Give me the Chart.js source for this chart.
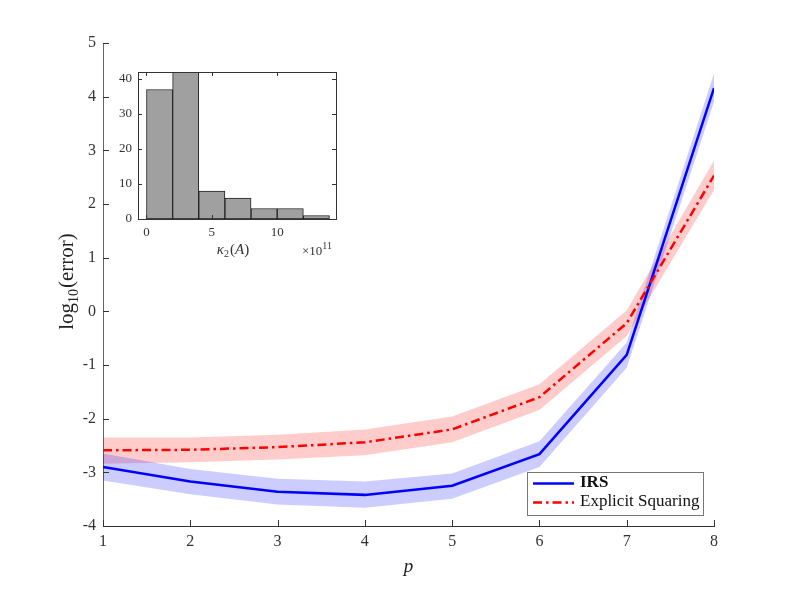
<!DOCTYPE html>
<html>
<head>
<meta charset="utf-8">
<script src="https://cdn.jsdelivr.net/npm/chart.js@4.4.1/dist/chart.umd.min.js"></script>
<style>
html, body { margin: 0; padding: 0; background: #fff; }
#wrap { position: relative; width: 789px; height: 592px; }
#main { position: absolute; left: 0; top: 0; }
#inset { position: absolute; left: 100px; top: 55px; }
</style>
</head>
<body>
<div id="wrap">
  <canvas id="main" width="789" height="592"></canvas>
  <canvas id="inset" width="250" height="210"></canvas>
</div>
<script>
// main plot data (log10 of error against p)
const pValues = [1, 2, 3, 4, 5, 6, 7, 8];
const irsMean  = [-2.90, -3.17, -3.36, -3.42, -3.25, -2.66, -0.81, 4.16];
const irsUpper = [-2.65, -2.94, -3.12, -3.17, -3.02, -2.42, -0.58, 4.43];
const irsLower = [-3.15, -3.41, -3.60, -3.66, -3.49, -2.90, -1.05, 3.90];
const esMean  = [-2.59, -2.58, -2.53, -2.44, -2.20, -1.60, -0.22, 2.53];
const esUpper = [-2.35, -2.35, -2.30, -2.20, -1.96, -1.36, 0.02, 2.81];
const esLower = [-2.84, -2.81, -2.76, -2.68, -2.44, -1.84, -0.46, 2.26];

// inset histogram of kappa_2(A), units of 1e11
const histEdges = [0, 2, 4, 6, 8, 10, 12, 14];
const histCounts = [37, 42, 8, 6, 3, 3, 1];
const insetXTicks = [0, 5, 10];
const insetYTicks = [0, 10, 20, 30, 40];

const serif = 'Liberation Serif';
const axisInk = '#333';

const pts = (ys) => pValues.map((p, i) => ({ x: p, y: ys[i] }));

// MATLAB style ticks pointing into the axes
const inwardTicks = {
    id: 'inwardTicks',
    afterDraw(chart, args, opts) {
        const { ctx, chartArea: a, scales } = chart;
        ctx.save();
        ctx.strokeStyle = opts.color;
        ctx.lineWidth = 1;
        ctx.beginPath();
        scales.x.ticks.forEach(t => {
            const px = Math.round(scales.x.getPixelForValue(t.value)) + 0.5;
            ctx.moveTo(px, a.bottom);
            ctx.lineTo(px, a.bottom - opts.len);
            if (opts.box) {
                ctx.moveTo(px, a.top);
                ctx.lineTo(px, a.top + opts.len);
            }
        });
        scales.y.ticks.forEach(t => {
            const py = Math.round(scales.y.getPixelForValue(t.value)) + 0.5;
            ctx.moveTo(a.left, py);
            ctx.lineTo(a.left + opts.len, py);
            if (opts.box) {
                ctx.moveTo(a.right, py);
                ctx.lineTo(a.right - opts.len, py);
            }
        });
        ctx.stroke();
        if (opts.box) {
            ctx.strokeRect(Math.round(a.left) + 0.5, Math.round(a.top) + 0.5,
                Math.round(a.right - a.left), Math.round(a.bottom - a.top));
        }
        ctx.restore();
    }
};

// axis titles and legend for the main plot
const mainDecor = {
    id: 'mainDecor',
    afterDraw(chart) {
        const { ctx, chartArea: a } = chart;
        ctx.save();
        ctx.fillStyle = '#222';

        // x title
        ctx.font = `italic 19px "${serif}"`;
        ctx.textAlign = 'center';
        ctx.textBaseline = 'alphabetic';
        ctx.fillText('p', (a.left + a.right) / 2, 572);

        // y title with subscript
        ctx.translate(73, (a.top + a.bottom) / 2 - 3);
        ctx.rotate(-Math.PI / 2);
        ctx.textAlign = 'left';
        const big = `21px "${serif}"`, small = `14px "${serif}"`;
        ctx.font = big;
        const w1 = ctx.measureText('log').width;
        const w3 = ctx.measureText('(error)').width;
        ctx.font = small;
        const w2 = ctx.measureText('10').width + 1;
        let x0 = -(w1 + w2 + w3) / 2;
        ctx.font = big;
        ctx.fillText('log', x0, 0);
        ctx.font = small;
        ctx.fillText('10', x0 + w1, 5);
        ctx.font = big;
        ctx.fillText('(error)', x0 + w1 + w2, 0);
        ctx.restore();

        // legend box
        ctx.save();
        ctx.fillStyle = '#fff';
        ctx.fillRect(527.5, 472.5, 176, 43);
        ctx.strokeStyle = '#777';
        ctx.lineWidth = 1;
        ctx.strokeRect(527.5, 472.5, 176, 43);
        ctx.lineWidth = 2.5;
        ctx.strokeStyle = '#0000ff';
        ctx.beginPath(); ctx.moveTo(533, 483.5); ctx.lineTo(574, 483.5); ctx.stroke();
        ctx.strokeStyle = '#ff0000';
        ctx.setLineDash([9, 4, 2.5, 4]);
        ctx.beginPath(); ctx.moveTo(533, 502.5); ctx.lineTo(574, 502.5); ctx.stroke();
        ctx.setLineDash([]);
        ctx.fillStyle = '#111';
        ctx.textBaseline = 'middle';
        ctx.textAlign = 'left';
        ctx.font = `bold 17px "${serif}"`;
        ctx.fillText('IRS', 580, 483);
        ctx.font = `17px "${serif}"`;
        ctx.fillText('Explicit Squaring', 580, 502);
        ctx.restore();
    }
};

const mainChart = new Chart(document.getElementById('main'), {
    type: 'line',
    data: {
        datasets: [
            { label: 'Explicit Squaring', data: pts(esMean), borderColor: '#ff0000', borderWidth: 2.5,
              borderDash: [9, 4, 2.5, 4], pointRadius: 0, tension: 0, fill: false },
            { label: 'IRS', data: pts(irsMean), borderColor: '#0000ff', borderWidth: 2.5,
              pointRadius: 0, tension: 0, fill: false },
            { label: 'irsUpper', data: pts(irsUpper), borderWidth: 0, pointRadius: 0,
              fill: { target: 3 }, backgroundColor: 'rgba(0,0,255,0.2)' },
            { label: 'irsLower', data: pts(irsLower), borderWidth: 0, pointRadius: 0, fill: false },
            { label: 'esUpper', data: pts(esUpper), borderWidth: 0, pointRadius: 0,
              fill: { target: 5 }, backgroundColor: 'rgba(255,0,0,0.2)' },
            { label: 'esLower', data: pts(esLower), borderWidth: 0, pointRadius: 0, fill: false }
        ]
    },
    options: {
        responsive: false,
        animation: false,
        layout: { padding: { top: 43, right: 75, left: 0, bottom: 0 } },
        plugins: {
            legend: { display: false },
            tooltip: { enabled: false },
            inwardTicks: { len: 6, color: axisInk, box: false }
        },
        scales: {
            x: {
                type: 'linear', min: 1, max: 8,
                grid: { display: false, drawTicks: false },
                border: { display: true, color: axisInk, width: 1 },
                ticks: { stepSize: 1, padding: 6, color: axisInk, font: { family: serif, size: 16 } },
                afterFit: (s) => { s.height = 66; }
            },
            y: {
                type: 'linear', min: -4, max: 5,
                grid: { display: false, drawTicks: false },
                border: { display: true, color: '#666', width: 1 },
                ticks: { stepSize: 1, padding: 7, color: axisInk, font: { family: serif, size: 16 } },
                afterFit: (s) => { s.width = 103; }
            }
        }
    },
    plugins: [inwardTicks, mainDecor]
});

// inset labels
const insetDecor = {
    id: 'insetDecor',
    afterDraw(chart) {
        const { ctx } = chart;
        ctx.save();
        ctx.fillStyle = '#333';
        ctx.textBaseline = 'alphabetic';
        ctx.textAlign = 'left';
        const it = `italic 15px "${serif}"`, rm = `15px "${serif}"`, sub = `10px "${serif}"`;
        const parts = [['κ', it, 0], ['2', sub, 3], ['(', rm, 0], ['A', it, 0], [')', rm, 0]];
        let total = 0;
        parts.forEach(p => { ctx.font = p[1]; total += ctx.measureText(p[0]).width + (p[0] === '2' ? 1 : 0); });
        let x = 133 - total / 2;
        parts.forEach(p => {
            ctx.font = p[1];
            ctx.fillText(p[0], x, 199 + p[2]);
            x += ctx.measureText(p[0]).width + (p[0] === '2' ? 1 : 0);
        });
        ctx.font = `13px "${serif}"`;
        ctx.fillText('×10', 202, 200);
        const wx = ctx.measureText('×10').width;
        ctx.font = `10px "${serif}"`;
        ctx.fillText('11', 202 + wx, 194);
        ctx.restore();
    }
};

const histData = histCounts.map((c, i) => ({ x: (histEdges[i] + histEdges[i + 1]) / 2, y: c }));

const insetChart = new Chart(document.getElementById('inset'), {
    type: 'bar',
    data: {
        datasets: [{
            label: 'kappa',
            data: histData,
            backgroundColor: '#a0a0a0',
            borderColor: '#222',
            borderWidth: 1,
            borderSkipped: false,
            barPercentage: 1,
            categoryPercentage: 1
        }]
    },
    options: {
        responsive: false,
        animation: false,
        layout: { padding: { top: 17, right: 14, left: 0, bottom: 0 } },
        plugins: {
            legend: { display: false },
            tooltip: { enabled: false },
            inwardTicks: { len: 4, color: axisInk, box: true }
        },
        scales: {
            x: {
                type: 'linear', min: -0.65, max: 14.5, offset: false,
                grid: { display: false, drawTicks: false, offset: false },
                border: { display: false },
                ticks: { padding: 6, color: axisInk, font: { family: serif, size: 13 } },
                afterBuildTicks: (s) => { s.ticks = insetXTicks.map(v => ({ value: v })); },
                afterFit: (s) => { s.height = 46; }
            },
            y: {
                type: 'linear', min: 0, max: 42,
                grid: { display: false, drawTicks: false },
                border: { display: false },
                ticks: { padding: 6, color: axisInk, font: { family: serif, size: 13 } },
                afterBuildTicks: (s) => { s.ticks = insetYTicks.map(v => ({ value: v })); },
                afterFit: (s) => { s.width = 38; }
            }
        }
    },
    plugins: [insetDecor, inwardTicks]
});
</script>
</body>
</html>
